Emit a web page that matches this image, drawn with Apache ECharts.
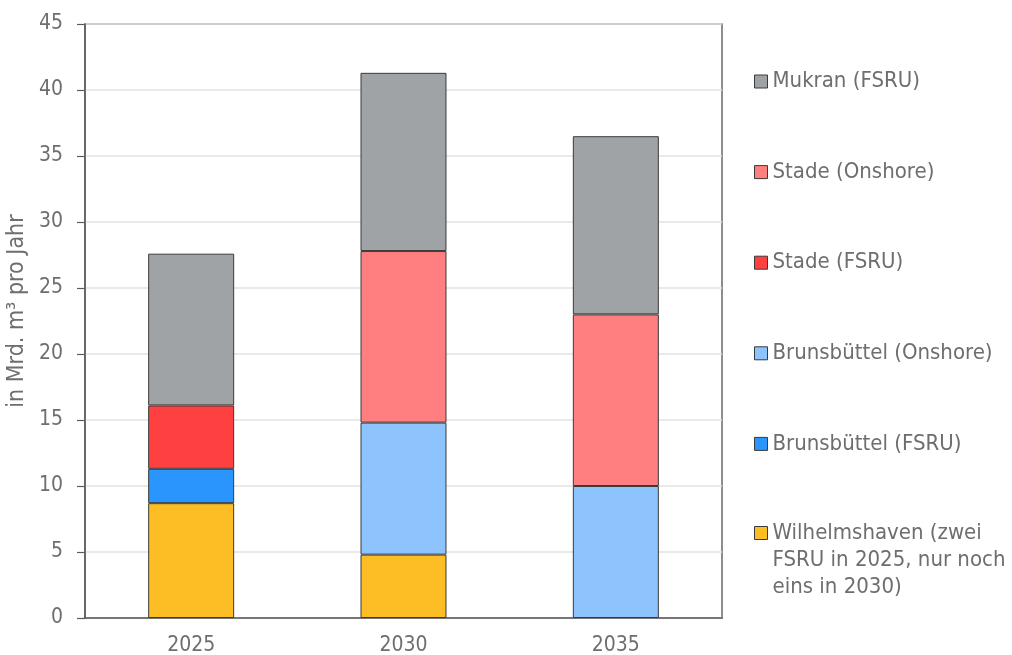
<!DOCTYPE html>
<html>
<head>
<meta charset="utf-8">
<script src="https://cdn.jsdelivr.net/npm/echarts@6/dist/echarts.min.js"></script>
<style>
  html, body { margin: 0; padding: 0; background: #ffffff; }
  #chart { width: 1012px; height: 655px; }
</style>
</head>
<body>
<div id="chart"></div>
<script>
// LNG import capacity by terminal, in billion m³ per year
const years = ['2025', '2030', '2035'];
const wilhelmshaven = [8.7, 4.8, null];
const brunsbuettelFsru = [2.6, null, null];
const brunsbuettelOnshore = [null, 10.0, 10.0];
const stadeFsru = [4.8, null, null];
const stadeOnshore = [null, 13.0, 13.0];
const mukran = [11.5, 13.5, 13.5];
const yTicks = [0, 5, 10, 15, 20, 25, 30, 35, 40, 45];

const names = {
  wil: 'Wilhelmshaven (zwei FSRU in 2025, nur noch eins in 2030)',
  bf: 'Brunsbüttel (FSRU)',
  bo: 'Brunsbüttel (Onshore)',
  sf: 'Stade (FSRU)',
  so: 'Stade (Onshore)',
  mu: 'Mukran (FSRU)'
};
// the long Wilhelmshaven entry wraps over three lines; two leading blank
// lines keep its first line level with the legend swatch
const wilLabel = '\n\nWilhelmshaven (zwei\nFSRU in 2025, nur noch\neins in 2030)';

const textColor = '#6e6e6e';
const font = 'DejaVu Sans Condensed';

function bar(name, data, color) {
  return {
    name: name,
    type: 'bar',
    stack: 'total',
    barWidth: '40.5%',
    data: data,
    itemStyle: { color: color, borderColor: '#3a3a3a', borderWidth: 1 }
  };
}

const chart = echarts.init(document.getElementById('chart'), null, { renderer: 'canvas' });
chart.setOption({
  animation: false,
  backgroundColor: '#ffffff',
  textStyle: { fontFamily: font },
  grid: {
    left: 85, right: 290, top: 24, bottom: 37,
    outerBoundsMode: 'none',
    containLabel: false,
    show: true, borderColor: '#6a6a6a', borderWidth: 1.5
  },
  xAxis: {
    type: 'category',
    data: years,
    axisLine: { lineStyle: { color: '#5a5a5a', width: 1.5 } },
    axisTick: { show: false },
    axisLabel: { color: textColor, fontSize: 21, margin: 17, fontFamily: font }
  },
  yAxis: {
    type: 'value',
    min: yTicks[0],
    max: yTicks[yTicks.length - 1],
    interval: 5,
    name: 'in Mrd. m³ pro Jahr',
    nameLocation: 'middle',
    nameGap: 55,
    nameTextStyle: { color: textColor, fontSize: 23, fontFamily: font, padding: [0, 0, 0, 20] },
    axisLine: { show: true, lineStyle: { color: '#5a5a5a', width: 1.5 } },
    axisTick: { show: true, inside: false, length: 8, lineStyle: { color: '#5a5a5a', width: 1.2 } },
    axisLabel: { color: textColor, fontSize: 21, margin: 22, fontFamily: font },
    splitLine: { lineStyle: { color: '#e2e2e2', width: 1.5 } }
  },
  legend: [
    {
      orient: 'vertical',
      left: 754, top: 68,
      padding: 0,
      itemWidth: 13, itemHeight: 13,
      itemGap: 63.6,
      icon: 'rect',
      selectedMode: false,
      data: [names.mu, names.so, names.sf, names.bo, names.bf],
      itemStyle: { borderColor: '#3a3a3a', borderWidth: 1 },
      textStyle: { color: textColor, fontSize: 22, lineHeight: 27, fontFamily: font }
    },
    {
      orient: 'vertical',
      left: 754, top: 465.5,
      padding: 0,
      itemWidth: 13, itemHeight: 13,
      icon: 'rect',
      selectedMode: false,
      data: [names.wil],
      formatter: function () { return wilLabel; },
      itemStyle: { borderColor: '#3a3a3a', borderWidth: 1 },
      textStyle: { color: textColor, fontSize: 22, lineHeight: 27, fontFamily: font }
    }
  ],
  series: [
    bar(names.wil, wilhelmshaven, '#fdbd25'),
    bar(names.bf, brunsbuettelFsru, '#2a96fd'),
    bar(names.bo, brunsbuettelOnshore, '#8dc4fd'),
    bar(names.sf, stadeFsru, '#fe4040'),
    bar(names.so, stadeOnshore, '#ff7e7f'),
    bar(names.mu, mukran, '#a0a3a5')
  ]
});
</script>
</body>
</html>
